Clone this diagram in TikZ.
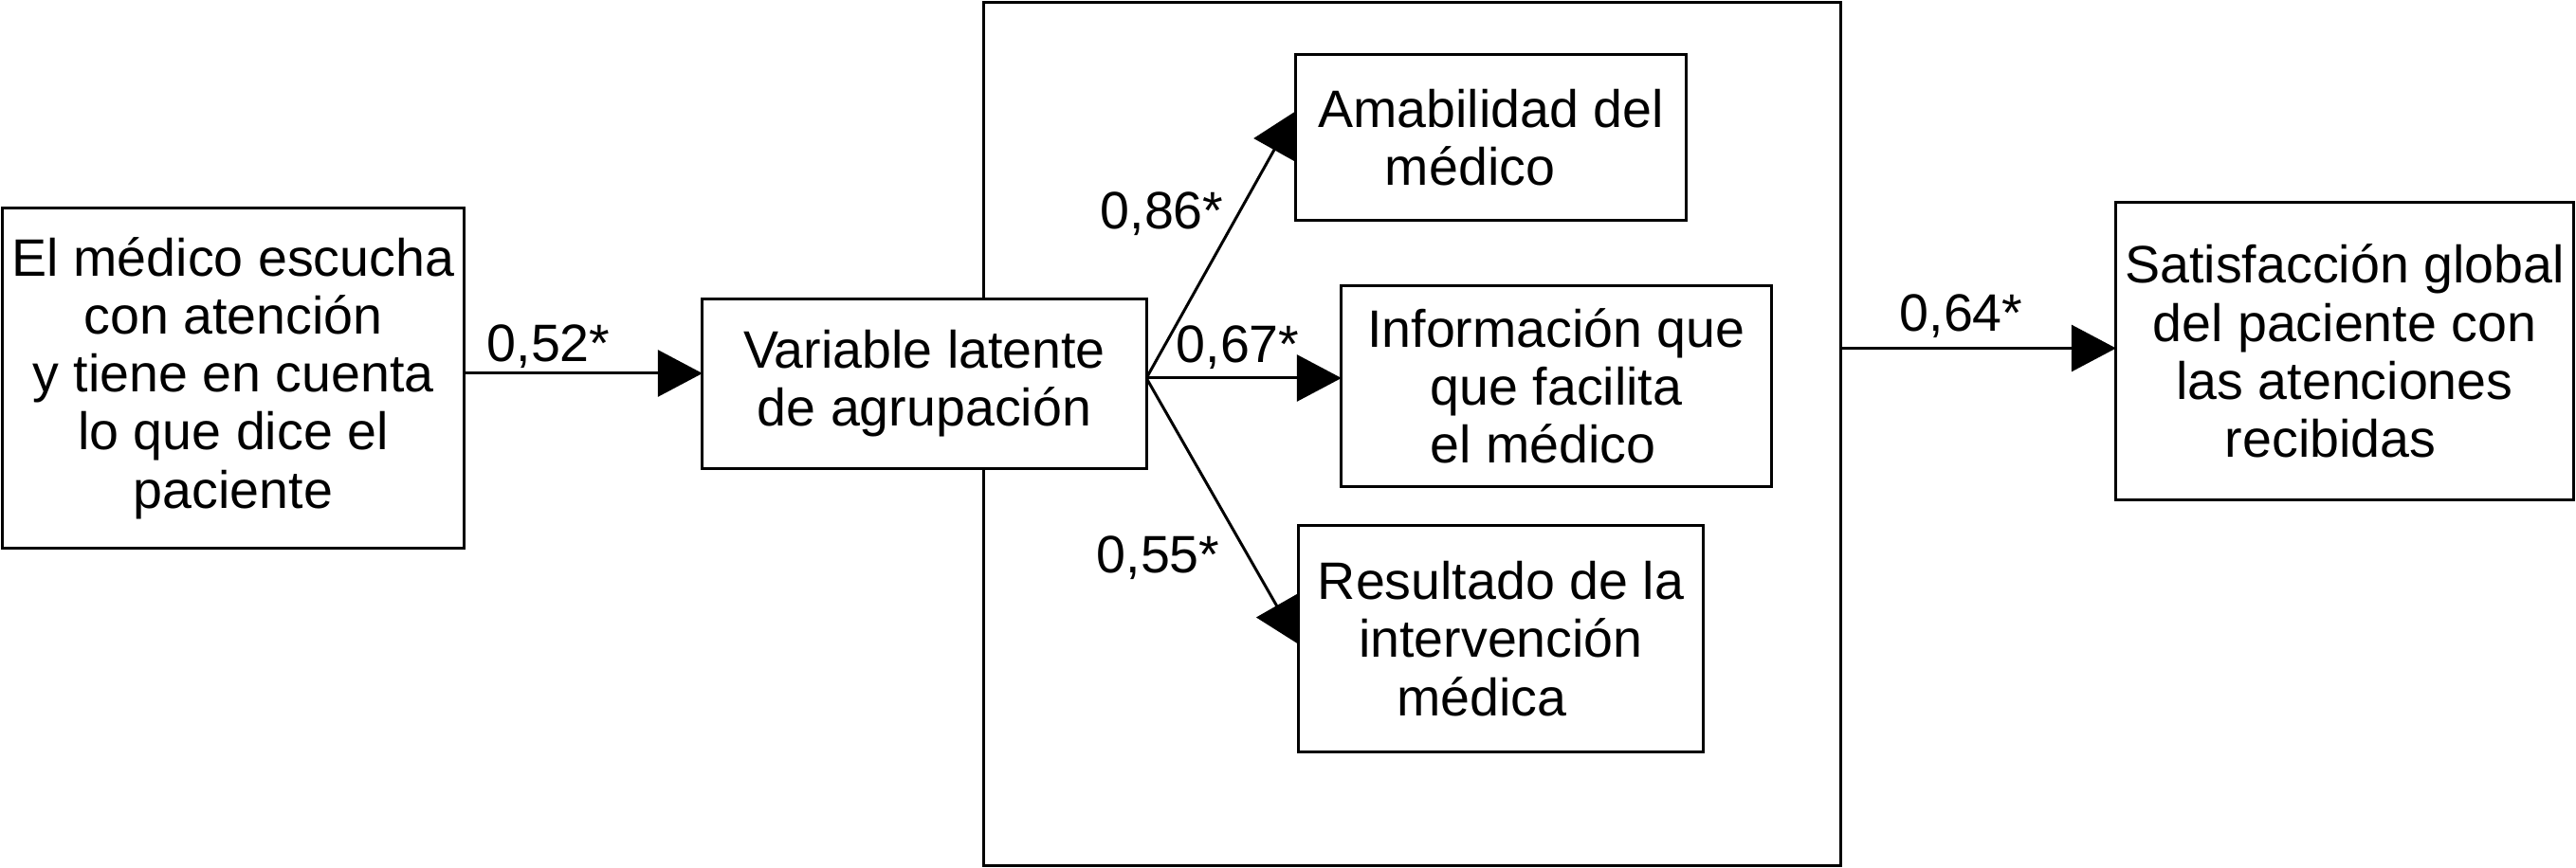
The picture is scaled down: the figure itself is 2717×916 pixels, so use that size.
\documentclass[tikz,border=0pt]{standalone}
\usepackage{fontspec}
\setmainfont{Liberation Sans}
\usetikzlibrary{arrows.meta,calc}
\begin{document}
\begin{tikzpicture}[x=0.01cm,y=-0.01cm,
  every node/.style={font=\fontsize{15.8pt}{17.4pt}\selectfont},
  box/.style={draw=black,line width=0.85pt,fill=white,align=center,inner sep=0pt,outer sep=0pt},
  lab/.style={anchor=base west,inner sep=0pt},
  arr/.style={line width=0.85pt,-{Triangle[length=0.47cm,width=0.49cm]}}]
\useasboundingbox (0,0) rectangle (2717,916);
\node[box,minimum width=9.03cm,minimum height=9.10cm] (big) at (1489.5,458) {};
\node[box,minimum width=4.86cm,minimum height=3.58cm] (esc) at (246,399)
  {El médico escucha\\con atención\\y tiene en cuenta\\lo que dice el\\paciente};
\node[box,minimum width=4.68cm,minimum height=1.78cm] (vl) at (975,405)
  {Variable latente\\de agrupación};
\node[box,minimum width=4.11cm,minimum height=1.74cm] (ama) at (1572.5,145)
  {Amabilidad del\\médico\hspace*{0.44cm}};
\node[box,minimum width=4.53cm,minimum height=2.11cm] (info) at (1641.5,407.5)
  {Información que\\que facilita\hspace*{0.1cm}\\el médico\hspace*{0.28cm}};
\node[box,minimum width=4.26cm,minimum height=2.38cm] (res) at (1583,674)
  {Resultado de la\\intervención\\médica\hspace*{0.4cm}};
\node[box,minimum width=4.82cm,minimum height=3.13cm] (sat) at (2473,370.5)
  {Satisfacción global\\del paciente con\\las atenciones\\recibidas\hspace*{0.3cm}};
% connectors
\coordinate (a1) at ($(esc.east)+(0,-5)$);
\draw[arr] (a1) -- (a1 -| vl.west);
\coordinate (hub) at ($(vl.east)+(0,-6)$);
\draw[arr] (hub) -- ($(ama.north west)!0.34!(ama.south west)$);
\draw[arr] (hub) -- (hub -| info.west);
\draw[arr] (hub) -- ($(res.west)+(0,6)$);
\coordinate (a2) at ($(sat.west)+(0,-3)$);
\draw[arr] (a2 -| big.east) -- (a2);
% labels
\node[lab] (l52) at (513,382) {0,52*};
\node[lab] (l86) at (1160,242) {0,86*};
\node[lab] (l67) at (1240,383) {0,67*};
\node[lab] (l55) at (1156,605) {0,55*};
\node[lab] (l64) at (2003,350) {0,64*};
\end{tikzpicture}
\end{document}
